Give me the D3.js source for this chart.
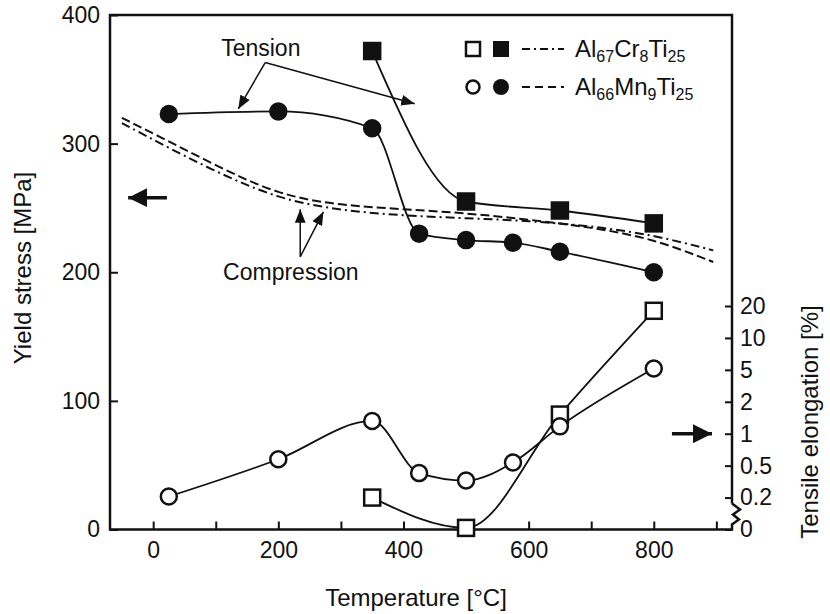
<!DOCTYPE html>
<html>
<head>
<meta charset="utf-8">
<script src="https://cdn.jsdelivr.net/npm/d3@7"></script>
<style>
  body { margin: 0; background: #fff; }
  svg { display: block; }
  text { font-family: "Liberation Sans", Arial, sans-serif; fill: #111; }
</style>
</head>
<body>
<div class="canvas"></div>
<script>
// yield stress in tension [MPa]
const crTensionT = [350, 500, 650, 800];
const crTension = [372, 255, 248, 238];
const mnTensionT = [25, 200, 350, 425, 500, 575, 650, 800];
const mnTension = [323, 325, 312, 230, 225, 223, 216, 200];
// tensile elongation [%]
const crElongT = [350, 500, 650, 800];
const crElong = [0.2, 0.01, 1.6, 18.5];
const mnElongT = [25, 200, 350, 425, 500, 575, 650, 800];
const mnElong = [0.21, 0.6, 1.4, 0.43, 0.36, 0.55, 1.23, 5.2];
// yield stress in compression [MPa]
const compT = [-50, 0, 100, 200, 300, 400, 500, 600, 700, 800, 895];
const crComp = [316, 303, 278, 257, 248, 244, 242, 240, 236, 229, 217];
const mnComp = [320, 308, 283, 260, 252, 249, 246, 241, 235, 226, 208];
// axis ticks
const xTicks = [0, 100, 200, 300, 400, 500, 600, 700, 800, 900];
const yTicks = [0, 100, 200, 300, 400];
const elongTicks = [0, 0.2, 0.5, 1, 2, 5, 10, 20];

const W = 830, H = 614;
const pLeft = 110, pRight = 732, pTop = 15, pBottom = 529.5;
const fs = 23;

const svg = d3.select(".canvas").append("svg").attr("width", W).attr("height", H);

const x = d3.scaleLinear().domain([-69, 925]).range([pLeft, pRight]);
const y = d3.scaleLinear().domain([0, 400]).range([pBottom, pTop]);
const step = (pBottom - 306) / 7;
const yR = d3.scaleLinear().domain(elongTicks).range(elongTicks.map((d, i) => pBottom - i * step));

const zip = (a, b) => a.map((d, i) => [d, b[i]]);

// axes
let ax = svg.append("g").attr("transform", `translate(0,${pBottom})`)
  .call(d3.axisBottom(x).tickValues(xTicks).tickSizeInner(-8).tickSizeOuter(0).tickPadding(12)
    .tickFormat(d => d % 200 === 0 && d <= 800 ? d : ""));
ax.select(".domain").remove();
ax.selectAll("text").attr("font-size", fs).attr("dy", "0.71em");

let ayl = svg.append("g").attr("transform", `translate(${pLeft},0)`)
  .call(d3.axisLeft(y).tickValues(yTicks).tickSizeInner(-8).tickSizeOuter(0).tickPadding(10));
ayl.select(".domain").remove();
ayl.selectAll("text").attr("font-size", fs);

let ayr = svg.append("g").attr("transform", `translate(${pRight},0)`)
  .call(d3.axisRight(yR).tickValues(elongTicks).tickSizeInner(-7).tickSizeOuter(0).tickPadding(8)
    .tickFormat(d => d));
ayr.select(".domain").remove();
ayr.selectAll("text").attr("font-size", fs);
svg.selectAll(".tick line").attr("stroke", "#111").attr("stroke-width", 2);

// frame
const yb = yR(0.2) + 6;
svg.append("path")
  .attr("d", `M${pRight},${yb}V${pTop}H${pLeft}V${pBottom}H${pRight}V${pBottom - 5}` +
    `L${pRight + 7},${pBottom - 10}L${pRight + 1},${pBottom - 15}L${pRight + 8},${pBottom - 20}L${pRight},${yb}`)
  .attr("fill", "none").attr("stroke", "#111").attr("stroke-width", 2.5);

// axis titles
svg.append("text").attr("x", 416).attr("y", 606).attr("text-anchor", "middle")
  .attr("font-size", 24).text("Temperature [°C]");
svg.append("text").attr("transform", "translate(31,268) rotate(-90)").attr("text-anchor", "middle")
  .attr("font-size", 24).text("Yield stress [MPa]");
svg.append("text").attr("transform", "translate(818,422) rotate(-90)").attr("text-anchor", "middle")
  .attr("font-size", 24).text("Tensile elongation [%]");

// compression curves
const lineComp = d3.line().x(d => x(d[0])).y(d => y(d[1])).curve(d3.curveBasis);
svg.append("path").attr("d", lineComp(zip(compT, crComp)))
  .attr("fill", "none").attr("stroke", "#111").attr("stroke-width", 2).attr("stroke-dasharray", "9,4,2,4");
svg.append("path").attr("d", lineComp(zip(compT, mnComp)))
  .attr("fill", "none").attr("stroke", "#111").attr("stroke-width", 2).attr("stroke-dasharray", "9,4");

// tension & elongation curves
const lineY = d3.line().x(d => x(d[0])).y(d => y(d[1])).curve(d3.curveMonotoneX);
const lineR = d3.line().x(d => x(d[0])).y(d => yR(d[1])).curve(d3.curveMonotoneX);
[[lineY, zip(crTensionT, crTension)], [lineY, zip(mnTensionT, mnTension)],
 [lineR, zip(crElongT, crElong)], [lineR, zip(mnElongT, mnElong)]].forEach(([ln, pts]) => {
  svg.append("path").attr("d", ln(pts)).attr("fill", "none").attr("stroke", "#111").attr("stroke-width", 1.8);
});

// markers
const sq = (g, pts, py, fill) => g.selectAll(null).data(pts).enter().append("rect")
  .attr("x", d => x(d[0]) - 8).attr("y", d => py(d[1]) - 8).attr("width", 16).attr("height", 16)
  .attr("fill", fill).attr("stroke", "#111").attr("stroke-width", 2.5);
const ci = (g, pts, py, fill) => g.selectAll(null).data(pts).enter().append("circle")
  .attr("cx", d => x(d[0])).attr("cy", d => py(d[1])).attr("r", 8)
  .attr("fill", fill).attr("stroke", "#111").attr("stroke-width", 2.5);
const gm = svg.append("g");
sq(gm, zip(crTensionT, crTension), y, "#111");
ci(gm, zip(mnTensionT, mnTension), y, "#111");
sq(gm, zip(crElongT, crElong), yR, "#fff");
ci(gm, zip(mnElongT, mnElong), yR, "#fff");

// annotations
const defs = svg.append("defs");
defs.append("marker").attr("id", "ah").attr("viewBox", "0 0 10 10").attr("refX", 10).attr("refY", 5)
  .attr("markerWidth", 9).attr("markerHeight", 9).attr("orient", "auto")
  .append("path").attr("d", "M0,1L10,5L0,9z").attr("fill", "#111");
defs.append("marker").attr("id", "big").attr("viewBox", "0 0 10 10").attr("refX", 10).attr("refY", 5)
  .attr("markerWidth", 5.5).attr("markerHeight", 5.5).attr("orient", "auto")
  .append("path").attr("d", "M0,0L10,5L0,10z").attr("fill", "#111");

const arrow = (a, b, py) => svg.append("line")
  .attr("x1", x(a[0])).attr("y1", py(a[1])).attr("x2", x(b[0])).attr("y2", py(b[1]))
  .attr("stroke", "#111").attr("stroke-width", 1.5).attr("marker-end", "url(#ah)");
svg.append("text").attr("x", x(172)).attr("y", y(368)).attr("text-anchor", "middle")
  .attr("font-size", fs).text("Tension");
arrow([179, 363], [136, 327], y);
arrow([179, 363], [418, 331], y);
svg.append("text").attr("x", x(220)).attr("y", y(194)).attr("text-anchor", "middle")
  .attr("font-size", fs).text("Compression");
arrow([235, 212], [235, 249], y);
arrow([235, 212], [272, 247], y);

const bigArrow = (a, b, py) => svg.append("line")
  .attr("x1", x(a[0])).attr("y1", py(a[1])).attr("x2", x(b[0])).attr("y2", py(b[1]))
  .attr("stroke", "#111").attr("stroke-width", 3.5).attr("marker-end", "url(#big)");
bigArrow([22, 258], [-40, 258], y);
bigArrow([829, 1], [893, 1], yR);

// legend
const lg = svg.append("g");
const lx = 473, l1 = 49, l2 = 87;
lg.append("rect").attr("x", lx - 7).attr("y", l1 - 7).attr("width", 14).attr("height", 14)
  .attr("fill", "#fff").attr("stroke", "#111").attr("stroke-width", 2.5);
lg.append("rect").attr("x", lx + 20).attr("y", l1 - 8).attr("width", 16).attr("height", 16).attr("fill", "#111");
lg.append("circle").attr("cx", lx).attr("cy", l2).attr("r", 6.5)
  .attr("fill", "#fff").attr("stroke", "#111").attr("stroke-width", 2.5);
lg.append("circle").attr("cx", lx + 28).attr("cy", l2).attr("r", 8).attr("fill", "#111");
lg.append("line").attr("x1", 522).attr("x2", 564).attr("y1", l1).attr("y2", l1)
  .attr("stroke", "#111").attr("stroke-width", 2).attr("stroke-dasharray", "8,4,2,4");
lg.append("line").attr("x1", 522).attr("x2", 564).attr("y1", l2).attr("y2", l2)
  .attr("stroke", "#111").attr("stroke-width", 2).attr("stroke-dasharray", "8,5");

const chem = (yy, parts) => {
  const t = lg.append("text").attr("x", 575).attr("y", yy + 8).attr("font-size", 24);
  parts.forEach((p, i) => {
    const sub = i % 2 === 1;
    t.append("tspan").attr("font-size", sub ? 16 : 24).attr("dy", sub ? 5 : (i ? -5 : 0)).text(p);
  });
};
chem(l1, ["Al", "67", "Cr", "8", "Ti", "25"]);
chem(l2, ["Al", "66", "Mn", "9", "Ti", "25"]);
</script>
</body>
</html>
